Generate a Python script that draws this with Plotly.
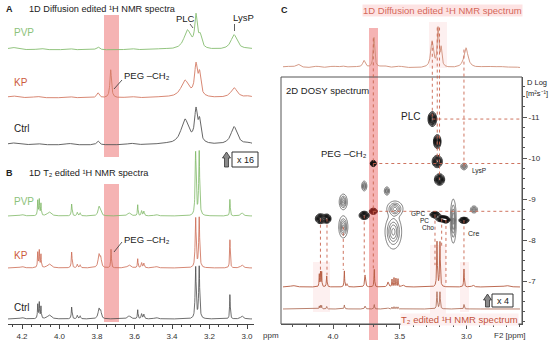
import numpy as np
import plotly.graph_objects as go

W, H = 550, 344
FONT = "Liberation Sans, Arial, sans-serif"

# ---------------- DATA ----------------
AB_TICKS = [4.2, 4.0, 3.8, 3.6, 3.4, 3.2, 3.0]
C_TICKS = [4.0, 3.5, 3.0]
D_TICKS = [-11, -10, -9, -8, -7]

# Panel A: diffusion-edited spectra; peak centre (ppm), height, half-width (ppm)
A_CTRL_PPM = [4.25, 4.12, 3.95, 3.795, 3.62, 3.45, 3.331, 3.272, 3.253, 3.069, 2.99]
A_CTRL_HT = [2.0, 1.5, 1.5, 4.0, 1.5, 1.0, 25, 31, 20, 18, 1.5]
A_CTRL_W = [0.03, 0.02, 0.02, 0.008, 0.02, 0.03, 0.025, 0.009, 0.008, 0.02, 0.02]

A_KP_PPM = [4.25, 4.12, 3.95, 3.795, 3.727, 3.62, 3.45, 3.331, 3.272, 3.253, 3.069, 2.99]
A_KP_HT = [2.0, 1.5, 1.5, 5.0, 28, 1.5, 1.0, 17, 30, 21, 10, 1.5]
A_KP_W = [0.03, 0.02, 0.02, 0.008, 0.005, 0.02, 0.03, 0.025, 0.009, 0.008, 0.02, 0.02]

A_PVP_PPM = [4.25, 4.10, 3.95, 3.795, 3.62, 3.45, 3.318, 3.272, 3.250, 3.069, 2.99]
A_PVP_HT = [2.5, 1.5, 1.5, 3.0, 1.5, 1.0, 19, 31, 12, 15, 1.5]
A_PVP_W = [0.03, 0.02, 0.02, 0.01, 0.02, 0.03, 0.022, 0.008, 0.01, 0.02, 0.02]

# Panel B: T2-edited spectra
B_PPM = [4.20, 4.116, 4.108, 4.099, 4.055, 3.935, 3.905, 3.890, 3.789, 3.780,
         3.629, 3.583, 3.562, 3.550, 3.485, 3.274, 3.255, 3.091, 3.027]
B_W = [0.01, 0.002, 0.002, 0.002, 0.012, 0.0025, 0.003, 0.003, 0.006, 0.004,
       0.01, 0.002, 0.003, 0.003, 0.01, 0.003, 0.003, 0.002, 0.008]
B_CTRL_HT = [1.5, 14, 16, 12, 4, 12, 3.5, 3, 10, 6, 3, 9, 5, 4.5, 1.5, 52, 52, 25, 3]
B_KP_HT = [1.5, 15, 17, 13, 4, 16, 3.5, 3, 13, 8, 3, 9, 5, 4.5, 1.5, 50, 50, 29, 3]
B_PVP_HT = [1.5, 15, 16, 12, 4, 12, 3.5, 3, 9, 5, 3, 11, 5, 4.5, 1.5, 64, 64, 17, 3]
B_PEG_PPM = [3.725]
B_PEG_HT = [19]
B_PEG_W = [0.002]

# Panel C: top 1D diffusion-edited spectrum
C_TOP_PPM = [4.35, 4.262, 4.12, 4.0, 3.93, 3.85, 3.768, 3.693, 3.62, 3.5,
             3.258, 3.213, 3.190, 3.004, 2.85, 2.75, 2.65]
C_TOP_HT = [1.5, 3.5, 1.5, 1.5, 1.5, 1.5, 7, 30, 2, 1.5, 26, 38, 18, 20, 1.5, 1.2, 1.0]
C_TOP_W = [0.04, 0.02, 0.03, 0.03, 0.02, 0.03, 0.012, 0.007, 0.03, 0.03,
           0.012, 0.007, 0.007, 0.018, 0.04, 0.03, 0.04]

# Panel C: T2-edited spectra (x4 trace and unscaled trace)
C_T2_PPM = [4.30, 4.103, 4.094, 4.085, 4.047, 3.915, 3.895, 3.760, 3.691, 3.588,
            3.558, 3.543, 3.528, 3.513, 3.476, 3.221, 3.199, 3.019, 2.951, 2.70]
C_T2_W = [0.02, 0.002, 0.002, 0.002, 0.003, 0.0025, 0.004, 0.004, 0.0025, 0.006,
          0.002, 0.002, 0.002, 0.002, 0.01, 0.003, 0.003, 0.0025, 0.008, 0.02]
C_T2X4_HT = [1.5, 13, 15, 15, 11, 16, 3, 12, 18, 5, 8, 9, 9, 8, 2, 45, 45, 18, 2, 1.5]
C_T2_HT = [0.4, 3, 3.5, 3.5, 2.5, 4, 0.7, 3, 4.5, 1.2, 2, 2.2, 2.2, 2, 0.5, 17, 17, 4.5, 0.5, 0.4]

# Panel C: 2D DOSY cross peaks: F2 (ppm), log D, extent in ppm, extent in log D, style
BLOB_PPM = [3.256, 3.219, 3.219, 3.202, 3.698, 3.019, 3.766, 3.596, 3.923, 3.923, 4.094,
            4.045, 3.766, 3.698, 3.536, 3.548, 3.236, 3.186, 3.154, 3.099, 3.019, 2.944]
BLOB_LOGD = [-10.95, -10.40, -9.915, -9.476, -9.866, -9.793, -9.317, -9.195, -8.93, -8.32, -8.52,
             -8.52, -8.60, -8.70, -8.76, -8.20, -8.617, -8.52, -8.49, -8.46, -8.48, -8.744]
BLOB_RX = [0.032, 0.028, 0.038, 0.038, 0.022, 0.024, 0.019, 0.019, 0.030, 0.034, 0.038,
           0.030, 0.038, 0.030, 0.060, 0.062, 0.038, 0.045, 0.030, 0.022, 0.038, 0.026]
BLOB_RY = [0.18, 0.17, 0.15, 0.14, 0.075, 0.08, 0.12, 0.10, 0.19, 0.27, 0.12,
           0.11, 0.10, 0.075, 0.19, 0.42, 0.075, 0.075, 0.075, 0.54, 0.075, 0.085]
BLOB_KIND = ["dark", "dark", "dark", "dark", "dark", "grey", "grey", "grey", "grey", "grey", "dark",
             "dark", "dark", "red", "grey", "grey", "dark", "dark", "dark", "grey", "dark", "grey"]
TOP_LINKS = [0, 2, 3, 4, 5]
BOTTOM_LINKS = [10, 11, 9, 12, 4, 16, 17, 18, 20]
H_LINKS = [0, 4, 13]

# ---------------- geometry helpers ----------------
def ab_ppm(xpx):
    return 4.2 - (xpx - 22) / 187.5

def c_ppm(xpx):
    return 4.0 - (xpx - 333) / 133.5

def logd_py(v):
    return 117 + (v + 11) * 41

def y3_py(v):
    return 77 - v

def y5_py(v):
    return 324 - v

def pxx(x):
    return x / W

def pxy(y):
    return 1 - y / H

def lorentz(x, ppm, ht, w):
    x = np.asarray(x)[:, None]
    return (np.array(ht) / (1 + ((x - np.array(ppm)) / np.array(w)) ** 2)).sum(axis=1)

fig = go.Figure()

def spec(x, y, xa, ya, color, width=0.9):
    fig.add_trace(go.Scatter(x=np.round(x, 4), y=np.round(y, 2), mode="lines",
                             line=dict(color=color, width=width), xaxis=xa, yaxis=ya,
                             hoverinfo="skip", showlegend=False))

GREEN, RED, GREY = "#86bd70", "#d47a64", "#555555"

# Panel A
xa = np.linspace(ab_ppm(8), ab_ppm(252), 1600)
spec(xa, 110 + lorentz(xa, A_PVP_PPM, A_PVP_HT, A_PVP_W), "x", "y", GREEN)
spec(xa, 62 + lorentz(xa, A_KP_PPM, A_KP_HT, A_KP_W), "x", "y", RED)
spec(xa, 15 + lorentz(xa, A_CTRL_PPM, A_CTRL_HT, A_CTRL_W), "x", "y", GREY)

# Panel B
spec(xa, 108 + lorentz(xa, B_PPM, B_PVP_HT, B_W), "x2", "y2", "#7db865", 0.8)
spec(xa, 56 + lorentz(xa, B_PPM + B_PEG_PPM, B_KP_HT + B_PEG_HT, B_W + B_PEG_W), "x2", "y2", "#cc6a52", 0.8)
spec(xa, 5 + lorentz(xa, B_PPM, B_CTRL_HT, B_W), "x2", "y2", "#4a4a4a", 0.8)

# Panel C spectra
xc = np.linspace(c_ppm(283), c_ppm(520), 1600)
top_y = 9 + lorentz(xc, C_TOP_PPM, C_TOP_HT, C_TOP_W)
spec(xc, top_y, "x3", "y3", "#cf8f78")
x4_y = 37 + lorentz(xc, C_T2_PPM, C_T2X4_HT, C_T2_W)
spec(xc, x4_y, "x3", "y5", "#b55a40", 0.9)
spec(xc, 15 + lorentz(xc, C_T2_PPM, C_T2_HT, C_T2_W), "x3", "y5", "#a8624a", 0.8)

# 2D DOSY contours
gx = np.linspace(c_ppm(281), c_ppm(522), 280)
gy = np.linspace(-12.0, -5.95, 280)
GX, GY = np.meshgrid(gx, gy)
k = 2.06
for kind, col, lw, size in [("grey", "#5a5a5a", 0.8, 0.2), ("dark", "#111111", 0.9, 0.09),
                            ("red", "#7a1f1a", 0.9, 0.09)]:
    Z = np.zeros_like(GX)
    for p, d, rx, ry, kd in zip(BLOB_PPM, BLOB_LOGD, BLOB_RX, BLOB_RY, BLOB_KIND):
        if kd == kind:
            sx, sy = rx / k, ry / k
            Z += np.exp(-((GX - p) ** 2 / (2 * sx ** 2) + (GY - d) ** 2 / (2 * sy ** 2)))
    fig.add_trace(go.Contour(x=np.round(gx, 4), y=np.round(gy, 4), z=np.round(Z, 3),
                             xaxis="x3", yaxis="y4", showscale=False, hoverinfo="skip",
                             contours=dict(coloring="none", start=0.12, end=0.95, size=size),
                             line=dict(color=col, width=lw)))

# ---------------- shapes ----------------
shapes = []

def prect(x0, y0, x1, y1, **kw):
    shapes.append(dict(type="rect", xref="paper", yref="paper", x0=pxx(x0), x1=pxx(x1),
                       y0=pxy(y0), y1=pxy(y1), **kw))

def pline(x0, y0, x1, y1, color="#333", width=0.8, dash="solid"):
    shapes.append(dict(type="line", xref="paper", yref="paper", x0=pxx(x0), x1=pxx(x1),
                       y0=pxy(y0), y1=pxy(y1), line=dict(color=color, width=width, dash=dash)))

def arrow(cx, top, bottom):
    pts = [(cx, top), (cx + 4, top + 6), (cx + 2, top + 6), (cx + 2, bottom),
           (cx - 2, bottom), (cx - 2, top + 6), (cx - 4, top + 6)]
    path = "M " + " L ".join(f"{pxx(x):.4f},{pxy(y):.4f}" for x, y in pts) + " Z"
    shapes.append(dict(type="path", xref="paper", yref="paper", path=path,
                       fillcolor="#8a8a8a", line=dict(color="#333", width=0.8)))

BAND = "rgba(236,110,110,0.52)"
prect(104, 15, 119, 157, fillcolor=BAND, line=dict(width=0), layer="below")
prect(104, 184, 119, 322, fillcolor=BAND, line=dict(width=0), layer="below")
prect(369, 28, 378, 340, fillcolor=BAND, line=dict(width=0), layer="below")
FAINT = "rgba(245,170,170,0.18)"
for r in [(429, 22, 447, 68), (313, 262, 330, 312), (430, 245, 446, 318), (460, 262, 469, 312)]:
    prect(*r, fillcolor=FAINT, line=dict(width=0), layer="below")

# DOSY frame
prect(281, 77, 522, 324, line=dict(color="#555", width=1), fillcolor="rgba(0,0,0,0)")

# x16 / x4 boxes and arrows
prect(232, 152, 258, 167, line=dict(color="#333", width=1), fillcolor="white")
arrow(226.5, 152, 167)
prect(492, 294, 513, 307, line=dict(color="#333", width=1), fillcolor="white")
arrow(487.5, 294, 307)

# leader lines
pline(190, 24, 193, 28)
pline(234.5, 24, 234.5, 31)
pline(122, 80, 114, 89)
pline(122, 242, 114, 252)

# DOSY guide lines
LINK = "#c8644e"
def spec_top(xgrid, ygrid, p):
    m = np.abs(xgrid - p) < 0.012
    return ygrid[m].max()

for i in TOP_LINKS:
    p = BLOB_PPM[i]
    shapes.append(dict(type="line", xref="x3", yref="paper", x0=p, x1=p,
                       y0=pxy(y3_py(spec_top(xc, top_y, p)) + 1), y1=pxy(logd_py(BLOB_LOGD[i])),
                       line=dict(color=LINK, width=0.9, dash="dot")))
for i in BOTTOM_LINKS:
    p = BLOB_PPM[i]
    shapes.append(dict(type="line", xref="x3", yref="paper", x0=p, x1=p,
                       y0=pxy(logd_py(BLOB_LOGD[i])), y1=pxy(y5_py(spec_top(xc, x4_y, p)) - 1),
                       line=dict(color=LINK, width=0.9, dash="dot")))
for i in H_LINKS:
    shapes.append(dict(type="line", xref="x3", yref="y4", x0=BLOB_PPM[i], x1=c_ppm(522),
                       y0=BLOB_LOGD[i], y1=BLOB_LOGD[i],
                       line=dict(color=LINK, width=0.9, dash="dot")))

# ---------------- annotations ----------------
ann = []

def text(x, y, s, size=9.5, color="#222", anchor="left", **kw):
    ann.append(dict(x=pxx(x), y=pxy(y), xref="paper", yref="paper", text=s, showarrow=False,
                    xanchor=anchor, yanchor="middle", borderpad=0,
                    font=dict(family=FONT, size=size, color=color), **kw))

text(5, 9, "<b>A</b>", 9)
text(28, 9, "1D Diffusion edited ¹H NMR spectra", 9.2)
text(13, 33, "PVP", 10, "#8cc27a")
text(13, 82, "KP", 10, "#cc5a40")
text(13, 128, "Ctrl", 10, "#222")
text(185, 19, "PLC", 9.5, anchor="center")
text(243, 18, "LysP", 9.5, anchor="center")
text(123, 76, "PEG –CH₂", 9.5)
text(245, 159.5, "x 16", 9, anchor="center")

text(5, 173, "<b>B</b>", 9)
text(28, 173, "1D T₂ edited ¹H NMR spectra", 9.2)
text(13, 201, "PVP", 10, "#8cc27a")
text(13, 255, "KP", 10, "#cc5a40")
text(13, 307, "Ctrl", 10, "#222")
text(123, 239, "PEG –CH₂", 9.5)
text(262, 335, "ppm", 8, "#333")

text(280, 10, "<b>C</b>", 9)
text(442, 10, "1D Diffusion edited ¹H NMR spectrum", 9.5, "#d5685a", anchor="center",
     bgcolor="#fde3e3")
text(285, 90, "2D DOSY spectrum", 9.5)
text(526, 82, "D Log", 7.5)
text(525, 93, "[m²s⁻¹]", 7.5)
text(410, 117, "PLC", 10, anchor="center")
text(344, 153, "PEG –CH₂", 9.5, anchor="center")
text(479, 171, "LysP", 6.5, anchor="center")
text(418, 213.5, "GPC", 6.5, anchor="center")
text(424, 220.5, "PC", 6.5, anchor="center")
text(428, 227.5, "Cho", 6.5, anchor="center")
text(473, 233, "Cre", 7, anchor="center")
text(502.5, 300.5, "x 4", 9, anchor="center")
text(459, 319, "T₂ edited ¹H NMR spectrum", 9.5, "#c4503a", anchor="center",
     bgcolor="#fdf0f0")
text(510, 335, "F2 [ppm]", 8, "#333", anchor="center")

# ---------------- layout ----------------
def dom_y(top, bottom):
    return [pxy(bottom), pxy(top)]

hidden = dict(visible=False, showgrid=False, zeroline=False)
ab_range = [ab_ppm(8), ab_ppm(254)]
ab_minor = [round(4.25 - 0.05 * i, 2) for i in range(27)]
c_minor = [round(4.3 - 0.1 * i, 1) for i in range(18)]
d_minor = [-11.75 + 0.25 * i for i in range(24)]
tickfont = dict(family=FONT, size=8, color="#333")

fig.update_layout(
    width=W, height=H, margin=dict(l=0, r=0, t=0, b=0),
    paper_bgcolor="white", plot_bgcolor="rgba(0,0,0,0)", showlegend=False,
    xaxis=dict(domain=[pxx(8), pxx(254)], range=ab_range, anchor="y", **hidden),
    yaxis=dict(domain=dom_y(12, 160), range=[0, 148], anchor="x", **hidden),
    xaxis2=dict(domain=[pxx(8), pxx(254)], range=ab_range, anchor="y2", showgrid=False,
                zeroline=False, showline=True, linecolor="#444", linewidth=1,
                ticks="outside", ticklen=4, tickcolor="#444", tickvals=AB_TICKS,
                ticktext=[f"{v:.1f}" for v in AB_TICKS], tickfont=tickfont,
                minor=dict(tickmode="array", tickvals=ab_minor, ticks="outside", ticklen=2,
                           tickcolor="#444")),
    yaxis2=dict(domain=dom_y(140, 324), range=[0, 184], anchor="x2", **hidden),
    xaxis3=dict(domain=[pxx(281), pxx(522)], range=[c_ppm(281), c_ppm(522)], anchor="y4",
                showgrid=False, zeroline=False, showline=True, linecolor="#555", linewidth=1,
                ticks="outside", ticklen=4, tickcolor="#555", tickvals=C_TICKS,
                ticktext=[f"{v:.1f}" for v in C_TICKS], tickfont=tickfont,
                minor=dict(tickmode="array", tickvals=c_minor, ticks="outside", ticklen=2,
                           tickcolor="#555")),
    yaxis3=dict(domain=dom_y(18, 77), range=[0, 59], anchor="x3", **hidden),
    yaxis4=dict(domain=dom_y(77, 324), range=[-5.951, -11.976], anchor="x3", side="right",
                showgrid=False, zeroline=False, showline=True, linecolor="#555", linewidth=1,
                ticks="outside", ticklen=4, tickcolor="#555", tickvals=D_TICKS,
                ticktext=[str(v) for v in D_TICKS], tickfont=tickfont,
                minor=dict(tickmode="array", tickvals=d_minor, ticks="outside", ticklen=2,
                           tickcolor="#555")),
    yaxis5=dict(domain=dom_y(77, 324), range=[0, 247], anchor="x3", overlaying="y4", **hidden),
    shapes=shapes, annotations=ann,
)

fig.write_html("out.html", config={"displayModeBar": False, "staticPlot": True},
               post_script="document.body.style.margin='0px';document.body.style.overflow='hidden';")
